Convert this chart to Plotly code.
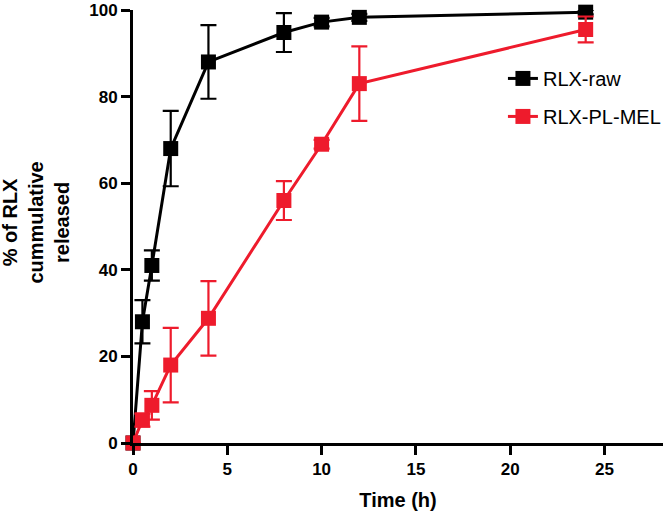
import plotly.graph_objects as go

time_h = [0, 0.5, 1, 2, 4, 8, 10, 12, 24]
raw_mean = [0, 28, 41, 68, 88, 94.8, 97.2, 98.3, 99.5]
raw_err = [0, 5, 3.5, 8.7, 8.5, 4.5, 1, 0.8, 0.5]
mel_mean = [0, 5.3, 8.7, 18, 28.8, 56, 69, 83, 95.5]
mel_err = [0, 1.5, 3.3, 8.6, 8.6, 4.5, 1, 8.6, 3]
series_names = ["RLX-raw", "RLX-PL-MEL"]
x_ticks = [0, 5, 10, 15, 20, 25]
y_ticks = [0, 20, 40, 60, 80, 100]

BLACK = "#000000"
RED = "#ee1b2c"
FONT = "Liberation Sans, Arial, sans-serif"

fig = go.Figure()
for name, ys, es, col, grp in [
    (series_names[0], raw_mean, raw_err, BLACK, "a"),
    (series_names[1], mel_mean, mel_err, RED, "b"),
]:
    fig.add_trace(go.Scatter(
        x=time_h, y=ys, name=name, mode="lines+markers",
        legendgroup=grp,
        line=dict(color=col, width=3),
        marker=dict(symbol="square", size=15, color=col),
        error_y=dict(type="data", array=es, visible=True, color=col,
                     thickness=2.2, width=8),
        cliponaxis=False,
    ))

fig.update_layout(
    width=666, height=513,
    margin=dict(l=133, r=0, t=10, b=70),
    paper_bgcolor="white", plot_bgcolor="white",
    font=dict(family=FONT, color="black"),
    showlegend=True,
    legend=dict(x=0.698, y=0.887, xanchor="left", yanchor="top",
                font=dict(size=20, color="black"),
                traceorder="grouped", tracegroupgap=9,
                bgcolor="rgba(0,0,0,0)"),
    xaxis=dict(range=[0, 28.1], tickvals=x_ticks, showgrid=False, zeroline=False,
               automargin=False,
               showline=True, linecolor="black", linewidth=3,
               ticks="outside", ticklen=9, tickwidth=3, tickcolor="black",
               tickfont=dict(size=17, family=FONT, weight="bold"),
               title=dict(text="<b>Time (h)</b>", font=dict(size=20), standoff=15)),
    yaxis=dict(range=[0, 100], tickvals=y_ticks, showgrid=False, zeroline=False,
               automargin=False,
               showline=True, linecolor="black", linewidth=3,
               ticks="outside", ticklen=9, tickwidth=3, tickcolor="black",
               tickfont=dict(size=17, family=FONT, weight="bold")),
    annotations=[dict(
        text="<b>% of RLX<br>cummulative<br>released</b>",
        xref="paper", yref="paper",
        x=(35 - 133) / 533, y=(443 - 223) / 433,
        xanchor="center", yanchor="middle",
        textangle=-90, showarrow=False,
        font=dict(size=20, color="black"),
    )],
)

css_js = (
    "var s=document.createElement('style');"
    "s.textContent='html,body{margin:0!important;padding:0!important;overflow:hidden!important;}"
    "::-webkit-scrollbar{display:none;width:0;height:0;}"
    ".plotly-graph-div{overflow:hidden;}';"
    "document.head.appendChild(s);"
)

fig.write_html(
    "out.html",
    config={"displayModeBar": False},
    post_script=css_js,
)
